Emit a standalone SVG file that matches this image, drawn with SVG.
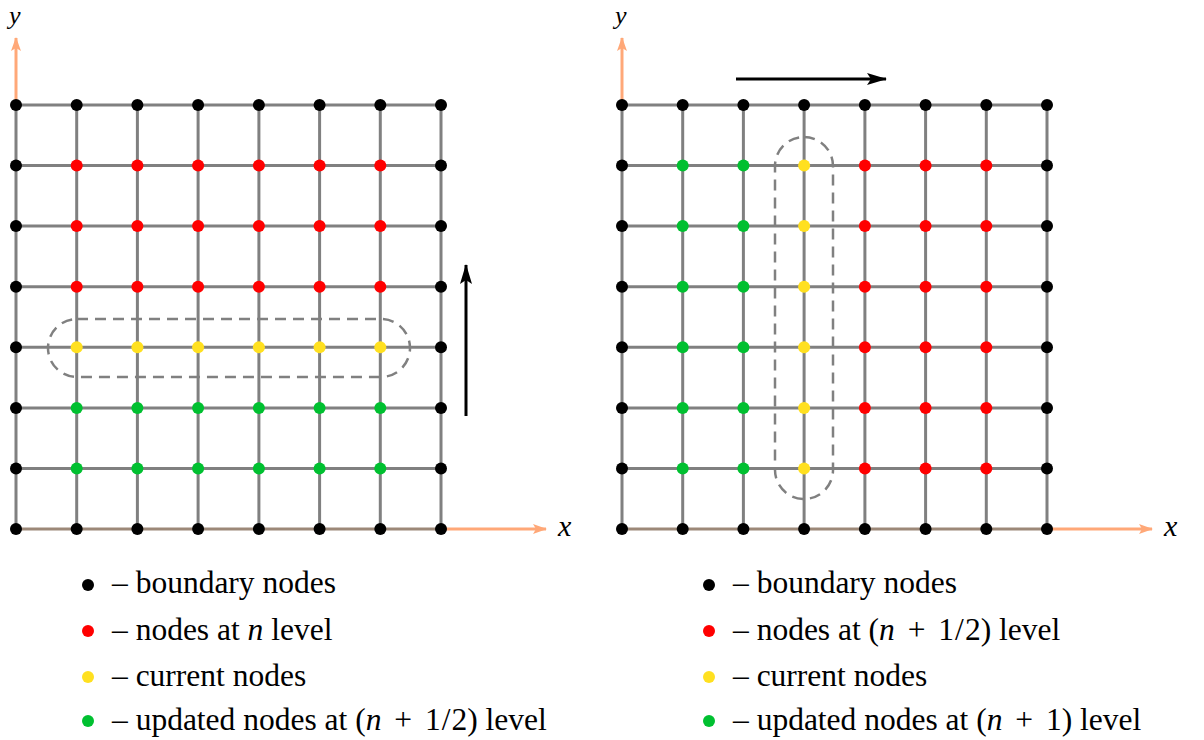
<svg xmlns="http://www.w3.org/2000/svg" width="1204" height="740" viewBox="0 0 1204 740">
<style>
.grid line{stroke:#808080;stroke-width:3}
.axis{stroke:#FFA878;stroke-width:3;fill:none}
.dash{fill:none;stroke:#808080;stroke-width:2.5;stroke-dasharray:11 7}
.k{fill:#000}.r{fill:#FF0000}.yl{fill:#FFE020}.g{fill:#00C030}
text{font-family:"Liberation Serif","Times New Roman",serif;font-size:31.5px;fill:#000}
.it{font-style:italic}
.ax{font-size:30px}
.ay{font-size:26px}
.arr{stroke:#000;stroke-width:3;fill:none}
</style>
<defs>
<marker id="oa" viewBox="0 0 14 10" refX="13" refY="5" markerWidth="14" markerHeight="10" markerUnits="userSpaceOnUse" orient="auto"><path d="M0,0 L14,5 L0,10 L3,5 Z" fill="#FFA878"/></marker>
<marker id="ka" viewBox="0 0 20 12" refX="19" refY="6" markerWidth="20" markerHeight="12" markerUnits="userSpaceOnUse" orient="auto"><path d="M0,0 L20,6 L0,12 L4,6 Z" fill="#000"/></marker>
<circle id="d" r="6"/>
</defs>

<!-- LEFT PANEL -->
<g id="left-grid" class="grid">
<line x1="16" y1="105" x2="441" y2="105"/><line x1="16" y1="165.6" x2="441" y2="165.6"/><line x1="16" y1="226.1" x2="441" y2="226.1"/><line x1="16" y1="286.7" x2="441" y2="286.7"/><line x1="16" y1="347.3" x2="441" y2="347.3"/><line x1="16" y1="407.9" x2="441" y2="407.9"/><line x1="16" y1="468.4" x2="441" y2="468.4"/><line x1="16" y1="529" x2="441" y2="529" style="stroke:#9c8878"/>
<line x1="16" y1="105" x2="16" y2="529"/><line x1="76.7" y1="105" x2="76.7" y2="529"/><line x1="137.4" y1="105" x2="137.4" y2="529"/><line x1="198.1" y1="105" x2="198.1" y2="529"/><line x1="258.9" y1="105" x2="258.9" y2="529"/><line x1="319.6" y1="105" x2="319.6" y2="529"/><line x1="380.3" y1="105" x2="380.3" y2="529"/><line x1="441" y1="105" x2="441" y2="529"/>
</g>
<g id="left-axes">
<line class="axis" x1="16" y1="105" x2="16" y2="38" marker-end="url(#oa)"/>
<line class="axis" x1="441" y1="529" x2="546" y2="529" marker-end="url(#oa)"/>
<text class="it ay" x="9" y="23.5">y</text>
<text class="it ax" x="558" y="536">x</text>
</g>
<rect id="left-window" class="dash" x="48" y="319" width="362" height="58" rx="29" ry="29"/>
<line id="left-sweep" class="arr" x1="466" y1="416" x2="466" y2="265" marker-end="url(#ka)"/>
<g id="left-nodes">
<g id="L00"><use href="#d" class="k" x="16" y="105"/></g><g id="L01"><use href="#d" class="k" x="76.7" y="105"/></g><g id="L02"><use href="#d" class="k" x="137.4" y="105"/></g><g id="L03"><use href="#d" class="k" x="198.1" y="105"/></g><g id="L04"><use href="#d" class="k" x="258.9" y="105"/></g><g id="L05"><use href="#d" class="k" x="319.6" y="105"/></g><g id="L06"><use href="#d" class="k" x="380.3" y="105"/></g><g id="L07"><use href="#d" class="k" x="441" y="105"/></g>
<g id="L10"><use href="#d" class="k" x="16" y="165.6"/></g><g id="L11"><use href="#d" class="r" x="76.7" y="165.6"/></g><g id="L12"><use href="#d" class="r" x="137.4" y="165.6"/></g><g id="L13"><use href="#d" class="r" x="198.1" y="165.6"/></g><g id="L14"><use href="#d" class="r" x="258.9" y="165.6"/></g><g id="L15"><use href="#d" class="r" x="319.6" y="165.6"/></g><g id="L16"><use href="#d" class="r" x="380.3" y="165.6"/></g><g id="L17"><use href="#d" class="k" x="441" y="165.6"/></g>
<g id="L20"><use href="#d" class="k" x="16" y="226.1"/></g><g id="L21"><use href="#d" class="r" x="76.7" y="226.1"/></g><g id="L22"><use href="#d" class="r" x="137.4" y="226.1"/></g><g id="L23"><use href="#d" class="r" x="198.1" y="226.1"/></g><g id="L24"><use href="#d" class="r" x="258.9" y="226.1"/></g><g id="L25"><use href="#d" class="r" x="319.6" y="226.1"/></g><g id="L26"><use href="#d" class="r" x="380.3" y="226.1"/></g><g id="L27"><use href="#d" class="k" x="441" y="226.1"/></g>
<g id="L30"><use href="#d" class="k" x="16" y="286.7"/></g><g id="L31"><use href="#d" class="r" x="76.7" y="286.7"/></g><g id="L32"><use href="#d" class="r" x="137.4" y="286.7"/></g><g id="L33"><use href="#d" class="r" x="198.1" y="286.7"/></g><g id="L34"><use href="#d" class="r" x="258.9" y="286.7"/></g><g id="L35"><use href="#d" class="r" x="319.6" y="286.7"/></g><g id="L36"><use href="#d" class="r" x="380.3" y="286.7"/></g><g id="L37"><use href="#d" class="k" x="441" y="286.7"/></g>
<g id="L40"><use href="#d" class="k" x="16" y="347.3"/></g><g id="L41"><use href="#d" class="yl" x="76.7" y="347.3"/></g><g id="L42"><use href="#d" class="yl" x="137.4" y="347.3"/></g><g id="L43"><use href="#d" class="yl" x="198.1" y="347.3"/></g><g id="L44"><use href="#d" class="yl" x="258.9" y="347.3"/></g><g id="L45"><use href="#d" class="yl" x="319.6" y="347.3"/></g><g id="L46"><use href="#d" class="yl" x="380.3" y="347.3"/></g><g id="L47"><use href="#d" class="k" x="441" y="347.3"/></g>
<g id="L50"><use href="#d" class="k" x="16" y="407.9"/></g><g id="L51"><use href="#d" class="g" x="76.7" y="407.9"/></g><g id="L52"><use href="#d" class="g" x="137.4" y="407.9"/></g><g id="L53"><use href="#d" class="g" x="198.1" y="407.9"/></g><g id="L54"><use href="#d" class="g" x="258.9" y="407.9"/></g><g id="L55"><use href="#d" class="g" x="319.6" y="407.9"/></g><g id="L56"><use href="#d" class="g" x="380.3" y="407.9"/></g><g id="L57"><use href="#d" class="k" x="441" y="407.9"/></g>
<g id="L60"><use href="#d" class="k" x="16" y="468.4"/></g><g id="L61"><use href="#d" class="g" x="76.7" y="468.4"/></g><g id="L62"><use href="#d" class="g" x="137.4" y="468.4"/></g><g id="L63"><use href="#d" class="g" x="198.1" y="468.4"/></g><g id="L64"><use href="#d" class="g" x="258.9" y="468.4"/></g><g id="L65"><use href="#d" class="g" x="319.6" y="468.4"/></g><g id="L66"><use href="#d" class="g" x="380.3" y="468.4"/></g><g id="L67"><use href="#d" class="k" x="441" y="468.4"/></g>
<g id="L70"><use href="#d" class="k" x="16" y="529"/></g><g id="L71"><use href="#d" class="k" x="76.7" y="529"/></g><g id="L72"><use href="#d" class="k" x="137.4" y="529"/></g><g id="L73"><use href="#d" class="k" x="198.1" y="529"/></g><g id="L74"><use href="#d" class="k" x="258.9" y="529"/></g><g id="L75"><use href="#d" class="k" x="319.6" y="529"/></g><g id="L76"><use href="#d" class="k" x="380.3" y="529"/></g><g id="L77"><use href="#d" class="k" x="441" y="529"/></g>
</g>
<g id="left-legend">
<use href="#d" class="k" x="88" y="585"/><text x="112" y="593">– boundary nodes</text>
<use href="#d" class="r" x="88" y="631"/><text x="112" y="640">– nodes at <tspan class="it">n</tspan> level</text>
<use href="#d" class="yl" x="88" y="677"/><text x="112" y="686">– current nodes</text>
<use href="#d" class="g" x="88" y="721"/><text x="112" y="730">– updated nodes at (<tspan class="it">n</tspan><tspan dx="5"> +</tspan><tspan dx="5"> 1</tspan><tspan dx="1">/</tspan><tspan dx="1">2) level</tspan></text>
</g>

<!-- RIGHT PANEL -->
<g id="right-grid" class="grid">
<line x1="622" y1="105" x2="1047" y2="105"/><line x1="622" y1="165.6" x2="1047" y2="165.6"/><line x1="622" y1="226.1" x2="1047" y2="226.1"/><line x1="622" y1="286.7" x2="1047" y2="286.7"/><line x1="622" y1="347.3" x2="1047" y2="347.3"/><line x1="622" y1="407.9" x2="1047" y2="407.9"/><line x1="622" y1="468.4" x2="1047" y2="468.4"/><line x1="622" y1="529" x2="1047" y2="529" style="stroke:#9c8878"/>
<line x1="622" y1="105" x2="622" y2="529"/><line x1="682.7" y1="105" x2="682.7" y2="529"/><line x1="743.4" y1="105" x2="743.4" y2="529"/><line x1="804.1" y1="105" x2="804.1" y2="529"/><line x1="864.9" y1="105" x2="864.9" y2="529"/><line x1="925.6" y1="105" x2="925.6" y2="529"/><line x1="986.3" y1="105" x2="986.3" y2="529"/><line x1="1047" y1="105" x2="1047" y2="529"/>
</g>
<g id="right-axes">
<line class="axis" x1="622" y1="105" x2="622" y2="38" marker-end="url(#oa)"/>
<line class="axis" x1="1047" y1="529" x2="1152" y2="529" marker-end="url(#oa)"/>
<text class="it ay" x="615" y="23.5">y</text>
<text class="it ax" x="1164" y="536">x</text>
</g>
<rect id="right-window" class="dash" x="775" y="137" width="58" height="362" rx="29" ry="29"/>
<line id="right-sweep" class="arr" x1="736" y1="79" x2="886" y2="79" marker-end="url(#ka)"/>
<g id="right-nodes">
<g id="R00"><use href="#d" class="k" x="622" y="105"/></g><g id="R01"><use href="#d" class="k" x="682.7" y="105"/></g><g id="R02"><use href="#d" class="k" x="743.4" y="105"/></g><g id="R03"><use href="#d" class="k" x="804.1" y="105"/></g><g id="R04"><use href="#d" class="k" x="864.9" y="105"/></g><g id="R05"><use href="#d" class="k" x="925.6" y="105"/></g><g id="R06"><use href="#d" class="k" x="986.3" y="105"/></g><g id="R07"><use href="#d" class="k" x="1047" y="105"/></g>
<g id="R10"><use href="#d" class="k" x="622" y="165.6"/></g><g id="R11"><use href="#d" class="g" x="682.7" y="165.6"/></g><g id="R12"><use href="#d" class="g" x="743.4" y="165.6"/></g><g id="R13"><use href="#d" class="yl" x="804.1" y="165.6"/></g><g id="R14"><use href="#d" class="r" x="864.9" y="165.6"/></g><g id="R15"><use href="#d" class="r" x="925.6" y="165.6"/></g><g id="R16"><use href="#d" class="r" x="986.3" y="165.6"/></g><g id="R17"><use href="#d" class="k" x="1047" y="165.6"/></g>
<g id="R20"><use href="#d" class="k" x="622" y="226.1"/></g><g id="R21"><use href="#d" class="g" x="682.7" y="226.1"/></g><g id="R22"><use href="#d" class="g" x="743.4" y="226.1"/></g><g id="R23"><use href="#d" class="yl" x="804.1" y="226.1"/></g><g id="R24"><use href="#d" class="r" x="864.9" y="226.1"/></g><g id="R25"><use href="#d" class="r" x="925.6" y="226.1"/></g><g id="R26"><use href="#d" class="r" x="986.3" y="226.1"/></g><g id="R27"><use href="#d" class="k" x="1047" y="226.1"/></g>
<g id="R30"><use href="#d" class="k" x="622" y="286.7"/></g><g id="R31"><use href="#d" class="g" x="682.7" y="286.7"/></g><g id="R32"><use href="#d" class="g" x="743.4" y="286.7"/></g><g id="R33"><use href="#d" class="yl" x="804.1" y="286.7"/></g><g id="R34"><use href="#d" class="r" x="864.9" y="286.7"/></g><g id="R35"><use href="#d" class="r" x="925.6" y="286.7"/></g><g id="R36"><use href="#d" class="r" x="986.3" y="286.7"/></g><g id="R37"><use href="#d" class="k" x="1047" y="286.7"/></g>
<g id="R40"><use href="#d" class="k" x="622" y="347.3"/></g><g id="R41"><use href="#d" class="g" x="682.7" y="347.3"/></g><g id="R42"><use href="#d" class="g" x="743.4" y="347.3"/></g><g id="R43"><use href="#d" class="yl" x="804.1" y="347.3"/></g><g id="R44"><use href="#d" class="r" x="864.9" y="347.3"/></g><g id="R45"><use href="#d" class="r" x="925.6" y="347.3"/></g><g id="R46"><use href="#d" class="r" x="986.3" y="347.3"/></g><g id="R47"><use href="#d" class="k" x="1047" y="347.3"/></g>
<g id="R50"><use href="#d" class="k" x="622" y="407.9"/></g><g id="R51"><use href="#d" class="g" x="682.7" y="407.9"/></g><g id="R52"><use href="#d" class="g" x="743.4" y="407.9"/></g><g id="R53"><use href="#d" class="yl" x="804.1" y="407.9"/></g><g id="R54"><use href="#d" class="r" x="864.9" y="407.9"/></g><g id="R55"><use href="#d" class="r" x="925.6" y="407.9"/></g><g id="R56"><use href="#d" class="r" x="986.3" y="407.9"/></g><g id="R57"><use href="#d" class="k" x="1047" y="407.9"/></g>
<g id="R60"><use href="#d" class="k" x="622" y="468.4"/></g><g id="R61"><use href="#d" class="g" x="682.7" y="468.4"/></g><g id="R62"><use href="#d" class="g" x="743.4" y="468.4"/></g><g id="R63"><use href="#d" class="yl" x="804.1" y="468.4"/></g><g id="R64"><use href="#d" class="r" x="864.9" y="468.4"/></g><g id="R65"><use href="#d" class="r" x="925.6" y="468.4"/></g><g id="R66"><use href="#d" class="r" x="986.3" y="468.4"/></g><g id="R67"><use href="#d" class="k" x="1047" y="468.4"/></g>
<g id="R70"><use href="#d" class="k" x="622" y="529"/></g><g id="R71"><use href="#d" class="k" x="682.7" y="529"/></g><g id="R72"><use href="#d" class="k" x="743.4" y="529"/></g><g id="R73"><use href="#d" class="k" x="804.1" y="529"/></g><g id="R74"><use href="#d" class="k" x="864.9" y="529"/></g><g id="R75"><use href="#d" class="k" x="925.6" y="529"/></g><g id="R76"><use href="#d" class="k" x="986.3" y="529"/></g><g id="R77"><use href="#d" class="k" x="1047" y="529"/></g>
</g>
<g id="right-legend">
<use href="#d" class="k" x="709" y="585"/><text x="733" y="593">– boundary nodes</text>
<use href="#d" class="r" x="709" y="631"/><text x="733" y="640">– nodes at (<tspan class="it">n</tspan><tspan dx="5"> +</tspan><tspan dx="5"> 1</tspan><tspan dx="1">/</tspan><tspan dx="1">2) level</tspan></text>
<use href="#d" class="yl" x="709" y="677"/><text x="733" y="686">– current nodes</text>
<use href="#d" class="g" x="709" y="721"/><text x="733" y="730">– updated nodes at (<tspan class="it">n</tspan><tspan dx="5"> +</tspan><tspan dx="5"> 1) level</tspan></text>
</g>
</svg>
